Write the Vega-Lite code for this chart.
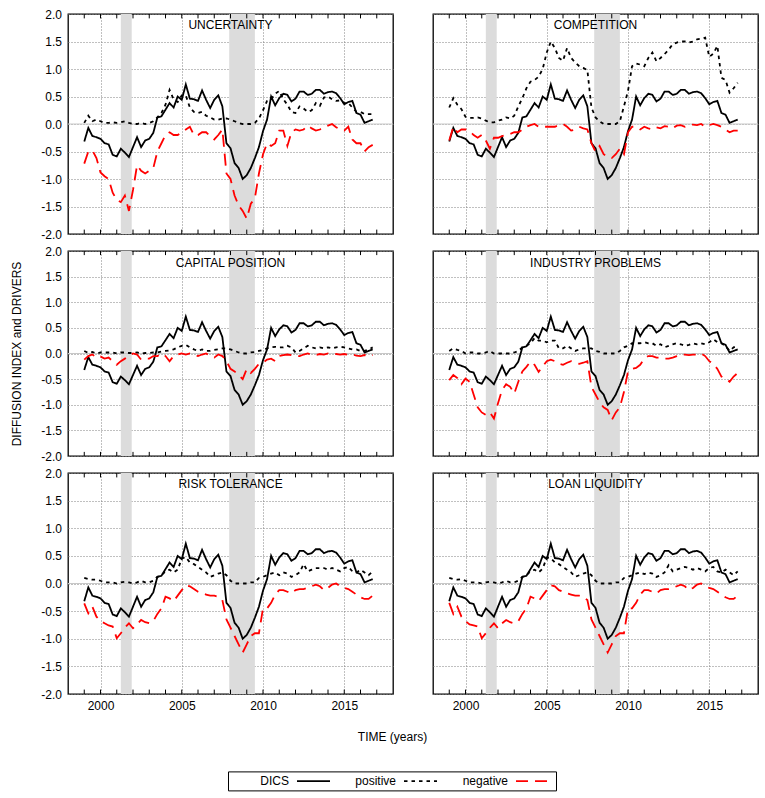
{
  "$schema": "https://vega.github.io/schema/vega-lite/v6.json",
  "background": "white",
  "padding": {"left": 9, "top": 7, "right": 5, "bottom": 5},
  "datasets": {
    "recessions": [
      {"start": 2001.25, "end": 2001.92},
      {"start": 2007.92, "end": 2009.5}
    ],
    "years": [
      {"year": 1999}, {"year": 2000}, {"year": 2001}, {"year": 2002}, {"year": 2003},
      {"year": 2004}, {"year": 2005}, {"year": 2006}, {"year": 2007}, {"year": 2008},
      {"year": 2009}, {"year": 2010}, {"year": 2011}, {"year": 2012}, {"year": 2013},
      {"year": 2014}, {"year": 2015}, {"year": 2016}, {"year": 2017}
    ],
    "dics": [
      {"t":1999,"DICS":-0.32},{"t":1999.25,"DICS":-0.07},{"t":1999.5,"DICS":-0.22},{"t":1999.75,"DICS":-0.24},
      {"t":2000,"DICS":-0.27},{"t":2000.25,"DICS":-0.35},{"t":2000.5,"DICS":-0.37},{"t":2000.75,"DICS":-0.56},
      {"t":2001,"DICS":-0.59},{"t":2001.25,"DICS":-0.45},{"t":2001.5,"DICS":-0.52},{"t":2001.75,"DICS":-0.60},
      {"t":2002,"DICS":-0.42},{"t":2002.25,"DICS":-0.24},{"t":2002.5,"DICS":-0.42},{"t":2002.75,"DICS":-0.30},
      {"t":2003,"DICS":-0.27},{"t":2003.25,"DICS":-0.16},{"t":2003.5,"DICS":0.12},{"t":2003.75,"DICS":0.14},
      {"t":2004,"DICS":0.26},{"t":2004.25,"DICS":0.38},{"t":2004.5,"DICS":0.30},{"t":2004.75,"DICS":0.50},
      {"t":2005,"DICS":0.44},{"t":2005.25,"DICS":0.72},{"t":2005.5,"DICS":0.46},{"t":2005.75,"DICS":0.45},
      {"t":2006,"DICS":0.42},{"t":2006.25,"DICS":0.61},{"t":2006.5,"DICS":0.44},{"t":2006.75,"DICS":0.29},
      {"t":2007,"DICS":0.44},{"t":2007.25,"DICS":0.52},{"t":2007.5,"DICS":0.32},{"t":2007.75,"DICS":-0.35},
      {"t":2008,"DICS":-0.44},{"t":2008.25,"DICS":-0.71},{"t":2008.5,"DICS":-0.80},{"t":2008.75,"DICS":-1.00},
      {"t":2009,"DICS":-0.93},{"t":2009.25,"DICS":-0.80},{"t":2009.5,"DICS":-0.62},{"t":2009.75,"DICS":-0.42},
      {"t":2010,"DICS":-0.13},{"t":2010.25,"DICS":0.08},{"t":2010.5,"DICS":0.50},{"t":2010.75,"DICS":0.34},
      {"t":2011,"DICS":0.47},{"t":2011.25,"DICS":0.55},{"t":2011.5,"DICS":0.53},{"t":2011.75,"DICS":0.41},
      {"t":2012,"DICS":0.46},{"t":2012.25,"DICS":0.59},{"t":2012.5,"DICS":0.59},{"t":2012.75,"DICS":0.53},
      {"t":2013,"DICS":0.55},{"t":2013.25,"DICS":0.62},{"t":2013.5,"DICS":0.62},{"t":2013.75,"DICS":0.55},
      {"t":2014,"DICS":0.58},{"t":2014.25,"DICS":0.59},{"t":2014.5,"DICS":0.56},{"t":2014.75,"DICS":0.47},
      {"t":2015,"DICS":0.36},{"t":2015.25,"DICS":0.40},{"t":2015.5,"DICS":0.42},{"t":2015.75,"DICS":0.20},
      {"t":2016,"DICS":0.17},{"t":2016.25,"DICS":0.02},{"t":2016.5,"DICS":0.05},{"t":2016.75,"DICS":0.08}
    ],
    "drivers": [
      {"panel":"UNCERTAINTY","t":1999,"positive":0.02,"negative":-0.72},
      {"panel":"UNCERTAINTY","t":1999.25,"positive":0.15,"negative":-0.50},
      {"panel":"UNCERTAINTY","t":1999.5,"positive":0.05,"negative":-0.48},
      {"panel":"UNCERTAINTY","t":1999.75,"positive":0.08,"negative":-0.62},
      {"panel":"UNCERTAINTY","t":2000,"positive":0.05,"negative":-0.88},
      {"panel":"UNCERTAINTY","t":2000.25,"positive":0.02,"negative":-0.95},
      {"panel":"UNCERTAINTY","t":2000.5,"positive":0.02,"negative":-1.00},
      {"panel":"UNCERTAINTY","t":2000.75,"positive":0.03,"negative":-1.25},
      {"panel":"UNCERTAINTY","t":2001,"positive":0.02,"negative":-1.38},
      {"panel":"UNCERTAINTY","t":2001.25,"positive":0.03,"negative":-1.42},
      {"panel":"UNCERTAINTY","t":2001.5,"positive":0.05,"negative":-1.30},
      {"panel":"UNCERTAINTY","t":2001.75,"positive":0.02,"negative":-1.58},
      {"panel":"UNCERTAINTY","t":2002,"positive":0.00,"negative":-1.20},
      {"panel":"UNCERTAINTY","t":2002.25,"positive":0.00,"negative":-0.75},
      {"panel":"UNCERTAINTY","t":2002.5,"positive":0.02,"negative":-0.85},
      {"panel":"UNCERTAINTY","t":2002.75,"positive":0.00,"negative":-0.90},
      {"panel":"UNCERTAINTY","t":2003,"positive":0.02,"negative":-0.85},
      {"panel":"UNCERTAINTY","t":2003.25,"positive":0.05,"negative":-0.80},
      {"panel":"UNCERTAINTY","t":2003.5,"positive":0.12,"negative":-0.50},
      {"panel":"UNCERTAINTY","t":2003.75,"positive":0.20,"negative":-0.35},
      {"panel":"UNCERTAINTY","t":2004,"positive":0.35,"negative":-0.20},
      {"panel":"UNCERTAINTY","t":2004.25,"positive":0.62,"negative":-0.15},
      {"panel":"UNCERTAINTY","t":2004.5,"positive":0.45,"negative":-0.20},
      {"panel":"UNCERTAINTY","t":2004.75,"positive":0.40,"negative":-0.20},
      {"panel":"UNCERTAINTY","t":2005,"positive":0.52,"negative":-0.15},
      {"panel":"UNCERTAINTY","t":2005.25,"positive":0.52,"negative":-0.10},
      {"panel":"UNCERTAINTY","t":2005.5,"positive":0.30,"negative":-0.05},
      {"panel":"UNCERTAINTY","t":2005.75,"positive":0.22,"negative":-0.20},
      {"panel":"UNCERTAINTY","t":2006,"positive":0.20,"negative":-0.20},
      {"panel":"UNCERTAINTY","t":2006.25,"positive":0.22,"negative":-0.15},
      {"panel":"UNCERTAINTY","t":2006.5,"positive":0.15,"negative":-0.15},
      {"panel":"UNCERTAINTY","t":2006.75,"positive":0.12,"negative":-0.22},
      {"panel":"UNCERTAINTY","t":2007,"positive":0.08,"negative":-0.28},
      {"panel":"UNCERTAINTY","t":2007.25,"positive":0.08,"negative":-0.20},
      {"panel":"UNCERTAINTY","t":2007.5,"positive":0.10,"negative":-0.10},
      {"panel":"UNCERTAINTY","t":2007.75,"positive":0.10,"negative":-0.90},
      {"panel":"UNCERTAINTY","t":2008,"positive":0.08,"negative":-1.00},
      {"panel":"UNCERTAINTY","t":2008.25,"positive":0.05,"negative":-1.30},
      {"panel":"UNCERTAINTY","t":2008.5,"positive":0.02,"negative":-1.48},
      {"panel":"UNCERTAINTY","t":2008.75,"positive":0.00,"negative":-1.58},
      {"panel":"UNCERTAINTY","t":2009,"positive":0.00,"negative":-1.72},
      {"panel":"UNCERTAINTY","t":2009.25,"positive":0.00,"negative":-1.45},
      {"panel":"UNCERTAINTY","t":2009.5,"positive":0.02,"negative":-1.35},
      {"panel":"UNCERTAINTY","t":2009.75,"positive":0.10,"negative":-0.90},
      {"panel":"UNCERTAINTY","t":2010,"positive":0.25,"negative":-0.55},
      {"panel":"UNCERTAINTY","t":2010.25,"positive":0.42,"negative":-0.35},
      {"panel":"UNCERTAINTY","t":2010.5,"positive":0.45,"negative":-0.40},
      {"panel":"UNCERTAINTY","t":2010.75,"positive":0.55,"negative":-0.35},
      {"panel":"UNCERTAINTY","t":2011,"positive":0.60,"negative":-0.12},
      {"panel":"UNCERTAINTY","t":2011.25,"positive":0.45,"negative":-0.12},
      {"panel":"UNCERTAINTY","t":2011.5,"positive":0.35,"negative":-0.40},
      {"panel":"UNCERTAINTY","t":2011.75,"positive":0.22,"negative":-0.15},
      {"panel":"UNCERTAINTY","t":2012,"positive":0.20,"negative":-0.10},
      {"panel":"UNCERTAINTY","t":2012.25,"positive":0.32,"negative":-0.12},
      {"panel":"UNCERTAINTY","t":2012.5,"positive":0.28,"negative":-0.10},
      {"panel":"UNCERTAINTY","t":2012.75,"positive":0.22,"negative":-0.03},
      {"panel":"UNCERTAINTY","t":2013,"positive":0.25,"negative":-0.08},
      {"panel":"UNCERTAINTY","t":2013.25,"positive":0.38,"negative":-0.12},
      {"panel":"UNCERTAINTY","t":2013.5,"positive":0.33,"negative":-0.10},
      {"panel":"UNCERTAINTY","t":2013.75,"positive":0.48,"negative":-0.06},
      {"panel":"UNCERTAINTY","t":2014,"positive":0.50,"negative":-0.03},
      {"panel":"UNCERTAINTY","t":2014.25,"positive":0.45,"negative":0.00},
      {"panel":"UNCERTAINTY","t":2014.5,"positive":0.42,"negative":-0.06},
      {"panel":"UNCERTAINTY","t":2014.75,"positive":0.43,"negative":-0.10},
      {"panel":"UNCERTAINTY","t":2015,"positive":0.38,"negative":-0.12},
      {"panel":"UNCERTAINTY","t":2015.25,"positive":0.38,"negative":-0.05},
      {"panel":"UNCERTAINTY","t":2015.5,"positive":0.30,"negative":-0.28},
      {"panel":"UNCERTAINTY","t":2015.75,"positive":0.22,"negative":-0.35},
      {"panel":"UNCERTAINTY","t":2016,"positive":0.22,"negative":-0.35},
      {"panel":"UNCERTAINTY","t":2016.25,"positive":0.18,"negative":-0.50},
      {"panel":"UNCERTAINTY","t":2016.5,"positive":0.18,"negative":-0.42},
      {"panel":"UNCERTAINTY","t":2016.75,"positive":0.18,"negative":-0.38},

      {"panel":"COMPETITION","t":1999,"positive":0.30,"negative":-0.30},
      {"panel":"COMPETITION","t":1999.25,"positive":0.47,"negative":-0.05},
      {"panel":"COMPETITION","t":1999.5,"positive":0.35,"negative":-0.15},
      {"panel":"COMPETITION","t":1999.75,"positive":0.27,"negative":-0.10},
      {"panel":"COMPETITION","t":2000,"positive":0.13,"negative":-0.10},
      {"panel":"COMPETITION","t":2000.25,"positive":0.11,"negative":-0.12},
      {"panel":"COMPETITION","t":2000.5,"positive":0.11,"negative":-0.20},
      {"panel":"COMPETITION","t":2000.75,"positive":0.12,"negative":-0.25},
      {"panel":"COMPETITION","t":2001,"positive":0.10,"negative":-0.20},
      {"panel":"COMPETITION","t":2001.25,"positive":0.06,"negative":-0.30},
      {"panel":"COMPETITION","t":2001.5,"positive":0.03,"negative":-0.45},
      {"panel":"COMPETITION","t":2001.75,"positive":0.03,"negative":-0.25},
      {"panel":"COMPETITION","t":2002,"positive":0.06,"negative":-0.25},
      {"panel":"COMPETITION","t":2002.25,"positive":0.08,"negative":-0.22},
      {"panel":"COMPETITION","t":2002.5,"positive":0.12,"negative":-0.20},
      {"panel":"COMPETITION","t":2002.75,"positive":0.10,"negative":-0.18},
      {"panel":"COMPETITION","t":2003,"positive":0.15,"negative":-0.15},
      {"panel":"COMPETITION","t":2003.25,"positive":0.32,"negative":-0.15},
      {"panel":"COMPETITION","t":2003.5,"positive":0.47,"negative":-0.10},
      {"panel":"COMPETITION","t":2003.75,"positive":0.65,"negative":-0.05},
      {"panel":"COMPETITION","t":2004,"positive":0.77,"negative":-0.02},
      {"panel":"COMPETITION","t":2004.25,"positive":0.80,"negative":0.00},
      {"panel":"COMPETITION","t":2004.5,"positive":0.86,"negative":-0.05},
      {"panel":"COMPETITION","t":2004.75,"positive":1.00,"negative":-0.05},
      {"panel":"COMPETITION","t":2005,"positive":1.30,"negative":-0.05},
      {"panel":"COMPETITION","t":2005.25,"positive":1.50,"negative":-0.05},
      {"panel":"COMPETITION","t":2005.5,"positive":1.38,"negative":-0.05},
      {"panel":"COMPETITION","t":2005.75,"positive":1.20,"negative":-0.02},
      {"panel":"COMPETITION","t":2006,"positive":1.15,"negative":0.00},
      {"panel":"COMPETITION","t":2006.25,"positive":1.38,"negative":-0.05},
      {"panel":"COMPETITION","t":2006.5,"positive":1.20,"negative":-0.12},
      {"panel":"COMPETITION","t":2006.75,"positive":1.12,"negative":-0.10},
      {"panel":"COMPETITION","t":2007,"positive":1.05,"negative":-0.05},
      {"panel":"COMPETITION","t":2007.25,"positive":1.02,"negative":-0.08},
      {"panel":"COMPETITION","t":2007.5,"positive":0.98,"negative":-0.10},
      {"panel":"COMPETITION","t":2007.75,"positive":0.30,"negative":-0.35},
      {"panel":"COMPETITION","t":2008,"positive":0.12,"negative":-0.50},
      {"panel":"COMPETITION","t":2008.25,"positive":0.05,"negative":-0.40},
      {"panel":"COMPETITION","t":2008.5,"positive":0.00,"negative":-0.55},
      {"panel":"COMPETITION","t":2008.75,"positive":0.00,"negative":-0.60},
      {"panel":"COMPETITION","t":2009,"positive":0.00,"negative":-0.62},
      {"panel":"COMPETITION","t":2009.25,"positive":0.00,"negative":-0.55},
      {"panel":"COMPETITION","t":2009.5,"positive":0.05,"negative":-0.45},
      {"panel":"COMPETITION","t":2009.75,"positive":0.32,"negative":-0.55},
      {"panel":"COMPETITION","t":2010,"positive":0.60,"negative":-0.15},
      {"panel":"COMPETITION","t":2010.25,"positive":1.05,"negative":-0.05},
      {"panel":"COMPETITION","t":2010.5,"positive":1.10,"negative":-0.05},
      {"panel":"COMPETITION","t":2010.75,"positive":1.08,"negative":-0.10},
      {"panel":"COMPETITION","t":2011,"positive":1.05,"negative":-0.05},
      {"panel":"COMPETITION","t":2011.25,"positive":1.20,"negative":-0.08},
      {"panel":"COMPETITION","t":2011.5,"positive":1.30,"negative":-0.10},
      {"panel":"COMPETITION","t":2011.75,"positive":1.14,"negative":-0.06},
      {"panel":"COMPETITION","t":2012,"positive":1.20,"negative":-0.08},
      {"panel":"COMPETITION","t":2012.25,"positive":1.27,"negative":-0.04},
      {"panel":"COMPETITION","t":2012.5,"positive":1.35,"negative":-0.05},
      {"panel":"COMPETITION","t":2012.75,"positive":1.45,"negative":-0.08},
      {"panel":"COMPETITION","t":2013,"positive":1.48,"negative":-0.03},
      {"panel":"COMPETITION","t":2013.25,"positive":1.50,"negative":-0.02},
      {"panel":"COMPETITION","t":2013.5,"positive":1.50,"negative":-0.05},
      {"panel":"COMPETITION","t":2013.75,"positive":1.48,"negative":-0.02},
      {"panel":"COMPETITION","t":2014,"positive":1.50,"negative":-0.01},
      {"panel":"COMPETITION","t":2014.25,"positive":1.54,"negative":-0.02},
      {"panel":"COMPETITION","t":2014.5,"positive":1.55,"negative":0.00},
      {"panel":"COMPETITION","t":2014.75,"positive":1.57,"negative":-0.05},
      {"panel":"COMPETITION","t":2015,"positive":1.22,"negative":-0.02},
      {"panel":"COMPETITION","t":2015.25,"positive":1.28,"negative":0.00},
      {"panel":"COMPETITION","t":2015.5,"positive":1.42,"negative":-0.02},
      {"panel":"COMPETITION","t":2015.75,"positive":0.84,"negative":-0.05},
      {"panel":"COMPETITION","t":2016,"positive":0.80,"negative":-0.10},
      {"panel":"COMPETITION","t":2016.25,"positive":0.57,"negative":-0.15},
      {"panel":"COMPETITION","t":2016.5,"positive":0.65,"negative":-0.12},
      {"panel":"COMPETITION","t":2016.75,"positive":0.75,"negative":-0.12},

      {"panel":"CAPITAL POSITION","t":1999,"positive":0.05,"negative":-0.12},
      {"panel":"CAPITAL POSITION","t":1999.25,"positive":0.01,"negative":-0.05},
      {"panel":"CAPITAL POSITION","t":1999.5,"positive":0.03,"negative":-0.02},
      {"panel":"CAPITAL POSITION","t":1999.75,"positive":0.00,"negative":-0.08},
      {"panel":"CAPITAL POSITION","t":2000,"positive":0.02,"negative":-0.06},
      {"panel":"CAPITAL POSITION","t":2000.25,"positive":0.02,"negative":-0.10},
      {"panel":"CAPITAL POSITION","t":2000.5,"positive":0.02,"negative":-0.08},
      {"panel":"CAPITAL POSITION","t":2000.75,"positive":0.02,"negative":-0.15},
      {"panel":"CAPITAL POSITION","t":2001,"positive":0.00,"negative":-0.22},
      {"panel":"CAPITAL POSITION","t":2001.25,"positive":0.02,"negative":-0.15},
      {"panel":"CAPITAL POSITION","t":2001.5,"positive":0.02,"negative":-0.10},
      {"panel":"CAPITAL POSITION","t":2001.75,"positive":0.01,"negative":-0.05},
      {"panel":"CAPITAL POSITION","t":2002,"positive":0.01,"negative":0.00},
      {"panel":"CAPITAL POSITION","t":2002.25,"positive":0.02,"negative":-0.02},
      {"panel":"CAPITAL POSITION","t":2002.5,"positive":0.00,"negative":-0.12},
      {"panel":"CAPITAL POSITION","t":2002.75,"positive":0.01,"negative":-0.10},
      {"panel":"CAPITAL POSITION","t":2003,"positive":0.01,"negative":-0.10},
      {"panel":"CAPITAL POSITION","t":2003.25,"positive":0.02,"negative":-0.05},
      {"panel":"CAPITAL POSITION","t":2003.5,"positive":0.02,"negative":-0.05},
      {"panel":"CAPITAL POSITION","t":2003.75,"positive":0.04,"negative":0.00},
      {"panel":"CAPITAL POSITION","t":2004,"positive":0.05,"negative":-0.05},
      {"panel":"CAPITAL POSITION","t":2004.25,"positive":0.06,"negative":-0.15},
      {"panel":"CAPITAL POSITION","t":2004.5,"positive":0.08,"negative":-0.05},
      {"panel":"CAPITAL POSITION","t":2004.75,"positive":0.12,"negative":-0.02},
      {"panel":"CAPITAL POSITION","t":2005,"positive":0.15,"negative":0.00},
      {"panel":"CAPITAL POSITION","t":2005.25,"positive":0.17,"negative":-0.02},
      {"panel":"CAPITAL POSITION","t":2005.5,"positive":0.12,"negative":0.00},
      {"panel":"CAPITAL POSITION","t":2005.75,"positive":0.08,"negative":-0.02},
      {"panel":"CAPITAL POSITION","t":2006,"positive":0.05,"negative":-0.05},
      {"panel":"CAPITAL POSITION","t":2006.25,"positive":0.08,"negative":-0.02},
      {"panel":"CAPITAL POSITION","t":2006.5,"positive":0.05,"negative":0.00},
      {"panel":"CAPITAL POSITION","t":2006.75,"positive":0.05,"negative":-0.05},
      {"panel":"CAPITAL POSITION","t":2007,"positive":0.07,"negative":-0.08},
      {"panel":"CAPITAL POSITION","t":2007.25,"positive":0.08,"negative":-0.02},
      {"panel":"CAPITAL POSITION","t":2007.5,"positive":0.10,"negative":-0.05},
      {"panel":"CAPITAL POSITION","t":2007.75,"positive":0.10,"negative":-0.15},
      {"panel":"CAPITAL POSITION","t":2008,"positive":0.08,"negative":-0.30},
      {"panel":"CAPITAL POSITION","t":2008.25,"positive":0.05,"negative":-0.35},
      {"panel":"CAPITAL POSITION","t":2008.5,"positive":0.02,"negative":-0.42},
      {"panel":"CAPITAL POSITION","t":2008.75,"positive":0.00,"negative":-0.50},
      {"panel":"CAPITAL POSITION","t":2009,"positive":0.00,"negative":-0.30},
      {"panel":"CAPITAL POSITION","t":2009.25,"positive":0.02,"negative":-0.38},
      {"panel":"CAPITAL POSITION","t":2009.5,"positive":0.03,"negative":-0.30},
      {"panel":"CAPITAL POSITION","t":2009.75,"positive":0.05,"negative":-0.20},
      {"panel":"CAPITAL POSITION","t":2010,"positive":0.07,"negative":-0.18},
      {"panel":"CAPITAL POSITION","t":2010.25,"positive":0.10,"negative":-0.12},
      {"panel":"CAPITAL POSITION","t":2010.5,"positive":0.12,"negative":-0.10},
      {"panel":"CAPITAL POSITION","t":2010.75,"positive":0.13,"negative":-0.15},
      {"panel":"CAPITAL POSITION","t":2011,"positive":0.12,"negative":-0.05},
      {"panel":"CAPITAL POSITION","t":2011.25,"positive":0.12,"negative":-0.03},
      {"panel":"CAPITAL POSITION","t":2011.5,"positive":0.15,"negative":-0.02},
      {"panel":"CAPITAL POSITION","t":2011.75,"positive":0.12,"negative":-0.03},
      {"panel":"CAPITAL POSITION","t":2012,"positive":0.02,"negative":-0.05},
      {"panel":"CAPITAL POSITION","t":2012.25,"positive":0.05,"negative":-0.05},
      {"panel":"CAPITAL POSITION","t":2012.5,"positive":0.10,"negative":-0.02},
      {"panel":"CAPITAL POSITION","t":2012.75,"positive":0.15,"negative":0.00},
      {"panel":"CAPITAL POSITION","t":2013,"positive":0.12,"negative":-0.02},
      {"panel":"CAPITAL POSITION","t":2013.25,"positive":0.10,"negative":-0.03},
      {"panel":"CAPITAL POSITION","t":2013.5,"positive":0.12,"negative":-0.01},
      {"panel":"CAPITAL POSITION","t":2013.75,"positive":0.10,"negative":-0.02},
      {"panel":"CAPITAL POSITION","t":2014,"positive":0.12,"negative":0.00},
      {"panel":"CAPITAL POSITION","t":2014.25,"positive":0.10,"negative":-0.02},
      {"panel":"CAPITAL POSITION","t":2014.5,"positive":0.12,"negative":-0.01},
      {"panel":"CAPITAL POSITION","t":2014.75,"positive":0.13,"negative":-0.02},
      {"panel":"CAPITAL POSITION","t":2015,"positive":0.12,"negative":-0.01},
      {"panel":"CAPITAL POSITION","t":2015.25,"positive":0.10,"negative":-0.03},
      {"panel":"CAPITAL POSITION","t":2015.5,"positive":0.08,"negative":-0.02},
      {"panel":"CAPITAL POSITION","t":2015.75,"positive":0.08,"negative":-0.04},
      {"panel":"CAPITAL POSITION","t":2016,"positive":0.05,"negative":-0.05},
      {"panel":"CAPITAL POSITION","t":2016.25,"positive":0.05,"negative":-0.03},
      {"panel":"CAPITAL POSITION","t":2016.5,"positive":0.08,"negative":-0.06},
      {"panel":"CAPITAL POSITION","t":2016.75,"positive":0.12,"negative":-0.03},

      {"panel":"INDUSTRY PROBLEMS","t":1999,"positive":0.05,"negative":-0.52},
      {"panel":"INDUSTRY PROBLEMS","t":1999.25,"positive":0.10,"negative":-0.42},
      {"panel":"INDUSTRY PROBLEMS","t":1999.5,"positive":0.07,"negative":-0.48},
      {"panel":"INDUSTRY PROBLEMS","t":1999.75,"positive":0.05,"negative":-0.60},
      {"panel":"INDUSTRY PROBLEMS","t":2000,"positive":0.00,"negative":-0.49},
      {"panel":"INDUSTRY PROBLEMS","t":2000.25,"positive":0.02,"negative":-0.55},
      {"panel":"INDUSTRY PROBLEMS","t":2000.5,"positive":0.02,"negative":-0.80},
      {"panel":"INDUSTRY PROBLEMS","t":2000.75,"positive":0.00,"negative":-1.05},
      {"panel":"INDUSTRY PROBLEMS","t":2001,"positive":0.00,"negative":-1.15},
      {"panel":"INDUSTRY PROBLEMS","t":2001.25,"positive":0.02,"negative":-1.20},
      {"panel":"INDUSTRY PROBLEMS","t":2001.5,"positive":0.05,"negative":-1.15},
      {"panel":"INDUSTRY PROBLEMS","t":2001.75,"positive":0.00,"negative":-1.27},
      {"panel":"INDUSTRY PROBLEMS","t":2002,"positive":0.00,"negative":-0.97},
      {"panel":"INDUSTRY PROBLEMS","t":2002.25,"positive":0.00,"negative":-0.71},
      {"panel":"INDUSTRY PROBLEMS","t":2002.5,"positive":0.00,"negative":-0.60},
      {"panel":"INDUSTRY PROBLEMS","t":2002.75,"positive":0.00,"negative":-0.65},
      {"panel":"INDUSTRY PROBLEMS","t":2003,"positive":0.02,"negative":-0.78},
      {"panel":"INDUSTRY PROBLEMS","t":2003.25,"positive":0.05,"negative":-0.55},
      {"panel":"INDUSTRY PROBLEMS","t":2003.5,"positive":0.12,"negative":-0.35},
      {"panel":"INDUSTRY PROBLEMS","t":2003.75,"positive":0.15,"negative":-0.26},
      {"panel":"INDUSTRY PROBLEMS","t":2004,"positive":0.20,"negative":-0.16},
      {"panel":"INDUSTRY PROBLEMS","t":2004.25,"positive":0.30,"negative":-0.22},
      {"panel":"INDUSTRY PROBLEMS","t":2004.5,"positive":0.25,"negative":-0.36},
      {"panel":"INDUSTRY PROBLEMS","t":2004.75,"positive":0.25,"negative":-0.25},
      {"panel":"INDUSTRY PROBLEMS","t":2005,"positive":0.22,"negative":-0.15},
      {"panel":"INDUSTRY PROBLEMS","t":2005.25,"positive":0.25,"negative":-0.12},
      {"panel":"INDUSTRY PROBLEMS","t":2005.5,"positive":0.25,"negative":-0.15},
      {"panel":"INDUSTRY PROBLEMS","t":2005.75,"positive":0.10,"negative":-0.20},
      {"panel":"INDUSTRY PROBLEMS","t":2006,"positive":0.10,"negative":-0.22},
      {"panel":"INDUSTRY PROBLEMS","t":2006.25,"positive":0.15,"negative":-0.18},
      {"panel":"INDUSTRY PROBLEMS","t":2006.5,"positive":0.10,"negative":-0.15},
      {"panel":"INDUSTRY PROBLEMS","t":2006.75,"positive":0.05,"negative":-0.18},
      {"panel":"INDUSTRY PROBLEMS","t":2007,"positive":0.08,"negative":-0.20},
      {"panel":"INDUSTRY PROBLEMS","t":2007.25,"positive":0.10,"negative":-0.18},
      {"panel":"INDUSTRY PROBLEMS","t":2007.5,"positive":0.10,"negative":-0.15},
      {"panel":"INDUSTRY PROBLEMS","t":2007.75,"positive":0.10,"negative":-0.65},
      {"panel":"INDUSTRY PROBLEMS","t":2008,"positive":0.05,"negative":-0.80},
      {"panel":"INDUSTRY PROBLEMS","t":2008.25,"positive":0.03,"negative":-0.95},
      {"panel":"INDUSTRY PROBLEMS","t":2008.5,"positive":0.00,"negative":-1.05},
      {"panel":"INDUSTRY PROBLEMS","t":2008.75,"positive":0.00,"negative":-1.10},
      {"panel":"INDUSTRY PROBLEMS","t":2009,"positive":0.00,"negative":-1.30},
      {"panel":"INDUSTRY PROBLEMS","t":2009.25,"positive":0.00,"negative":-1.15},
      {"panel":"INDUSTRY PROBLEMS","t":2009.5,"positive":0.05,"negative":-1.05},
      {"panel":"INDUSTRY PROBLEMS","t":2009.75,"positive":0.12,"negative":-0.75},
      {"panel":"INDUSTRY PROBLEMS","t":2010,"positive":0.15,"negative":-0.35},
      {"panel":"INDUSTRY PROBLEMS","t":2010.25,"positive":0.20,"negative":-0.30},
      {"panel":"INDUSTRY PROBLEMS","t":2010.5,"positive":0.20,"negative":-0.28},
      {"panel":"INDUSTRY PROBLEMS","t":2010.75,"positive":0.20,"negative":-0.22},
      {"panel":"INDUSTRY PROBLEMS","t":2011,"positive":0.22,"negative":-0.10},
      {"panel":"INDUSTRY PROBLEMS","t":2011.25,"positive":0.20,"negative":-0.05},
      {"panel":"INDUSTRY PROBLEMS","t":2011.5,"positive":0.20,"negative":-0.05},
      {"panel":"INDUSTRY PROBLEMS","t":2011.75,"positive":0.15,"negative":-0.08},
      {"panel":"INDUSTRY PROBLEMS","t":2012,"positive":0.18,"negative":-0.08},
      {"panel":"INDUSTRY PROBLEMS","t":2012.25,"positive":0.12,"negative":-0.10},
      {"panel":"INDUSTRY PROBLEMS","t":2012.5,"positive":0.15,"negative":-0.10},
      {"panel":"INDUSTRY PROBLEMS","t":2012.75,"positive":0.18,"negative":-0.08},
      {"panel":"INDUSTRY PROBLEMS","t":2013,"positive":0.20,"negative":-0.05},
      {"panel":"INDUSTRY PROBLEMS","t":2013.25,"positive":0.18,"negative":-0.02},
      {"panel":"INDUSTRY PROBLEMS","t":2013.5,"positive":0.15,"negative":-0.02},
      {"panel":"INDUSTRY PROBLEMS","t":2013.75,"positive":0.17,"negative":-0.03},
      {"panel":"INDUSTRY PROBLEMS","t":2014,"positive":0.20,"negative":-0.02},
      {"panel":"INDUSTRY PROBLEMS","t":2014.25,"positive":0.18,"negative":-0.02},
      {"panel":"INDUSTRY PROBLEMS","t":2014.5,"positive":0.20,"negative":0.00},
      {"panel":"INDUSTRY PROBLEMS","t":2014.75,"positive":0.18,"negative":-0.05},
      {"panel":"INDUSTRY PROBLEMS","t":2015,"positive":0.22,"negative":-0.15},
      {"panel":"INDUSTRY PROBLEMS","t":2015.25,"positive":0.28,"negative":-0.20},
      {"panel":"INDUSTRY PROBLEMS","t":2015.5,"positive":0.22,"negative":-0.30},
      {"panel":"INDUSTRY PROBLEMS","t":2015.75,"positive":0.20,"negative":-0.45},
      {"panel":"INDUSTRY PROBLEMS","t":2016,"positive":0.15,"negative":-0.50},
      {"panel":"INDUSTRY PROBLEMS","t":2016.25,"positive":0.05,"negative":-0.55},
      {"panel":"INDUSTRY PROBLEMS","t":2016.5,"positive":0.12,"negative":-0.45},
      {"panel":"INDUSTRY PROBLEMS","t":2016.75,"positive":0.15,"negative":-0.38},

      {"panel":"RISK TOLERANCE","t":1999,"positive":0.10,"negative":-0.36},
      {"panel":"RISK TOLERANCE","t":1999.25,"positive":0.08,"negative":-0.54},
      {"panel":"RISK TOLERANCE","t":1999.5,"positive":0.07,"negative":-0.42},
      {"panel":"RISK TOLERANCE","t":1999.75,"positive":0.07,"negative":-0.60},
      {"panel":"RISK TOLERANCE","t":2000,"positive":0.05,"negative":-0.68},
      {"panel":"RISK TOLERANCE","t":2000.25,"positive":0.02,"negative":-0.72},
      {"panel":"RISK TOLERANCE","t":2000.5,"positive":0.02,"negative":-0.76},
      {"panel":"RISK TOLERANCE","t":2000.75,"positive":0.02,"negative":-0.78},
      {"panel":"RISK TOLERANCE","t":2001,"positive":0.00,"negative":-0.99},
      {"panel":"RISK TOLERANCE","t":2001.25,"positive":0.02,"negative":-0.90},
      {"panel":"RISK TOLERANCE","t":2001.5,"positive":0.03,"negative":-0.80},
      {"panel":"RISK TOLERANCE","t":2001.75,"positive":0.02,"negative":-0.72},
      {"panel":"RISK TOLERANCE","t":2002,"positive":0.00,"negative":-0.81},
      {"panel":"RISK TOLERANCE","t":2002.25,"positive":0.02,"negative":-0.74},
      {"panel":"RISK TOLERANCE","t":2002.5,"positive":0.05,"negative":-0.66},
      {"panel":"RISK TOLERANCE","t":2002.75,"positive":0.02,"negative":-0.70},
      {"panel":"RISK TOLERANCE","t":2003,"positive":0.02,"negative":-0.72},
      {"panel":"RISK TOLERANCE","t":2003.25,"positive":0.05,"negative":-0.68},
      {"panel":"RISK TOLERANCE","t":2003.5,"positive":0.12,"negative":-0.55},
      {"panel":"RISK TOLERANCE","t":2003.75,"positive":0.15,"negative":-0.45},
      {"panel":"RISK TOLERANCE","t":2004,"positive":0.22,"negative":-0.24},
      {"panel":"RISK TOLERANCE","t":2004.25,"positive":0.25,"negative":-0.27},
      {"panel":"RISK TOLERANCE","t":2004.5,"positive":0.20,"negative":-0.32},
      {"panel":"RISK TOLERANCE","t":2004.75,"positive":0.25,"negative":-0.22},
      {"panel":"RISK TOLERANCE","t":2005,"positive":0.45,"negative":-0.12},
      {"panel":"RISK TOLERANCE","t":2005.25,"positive":0.48,"negative":-0.03},
      {"panel":"RISK TOLERANCE","t":2005.5,"positive":0.38,"negative":-0.05},
      {"panel":"RISK TOLERANCE","t":2005.75,"positive":0.35,"negative":-0.10},
      {"panel":"RISK TOLERANCE","t":2006,"positive":0.30,"negative":-0.15},
      {"panel":"RISK TOLERANCE","t":2006.25,"positive":0.25,"negative":-0.18},
      {"panel":"RISK TOLERANCE","t":2006.5,"positive":0.20,"negative":-0.20},
      {"panel":"RISK TOLERANCE","t":2006.75,"positive":0.12,"negative":-0.22},
      {"panel":"RISK TOLERANCE","t":2007,"positive":0.15,"negative":-0.22},
      {"panel":"RISK TOLERANCE","t":2007.25,"positive":0.18,"negative":-0.24},
      {"panel":"RISK TOLERANCE","t":2007.5,"positive":0.20,"negative":-0.30},
      {"panel":"RISK TOLERANCE","t":2007.75,"positive":0.15,"negative":-0.65},
      {"panel":"RISK TOLERANCE","t":2008,"positive":0.05,"negative":-0.80},
      {"panel":"RISK TOLERANCE","t":2008.25,"positive":0.00,"negative":-0.95},
      {"panel":"RISK TOLERANCE","t":2008.5,"positive":0.00,"negative":-1.10},
      {"panel":"RISK TOLERANCE","t":2008.75,"positive":0.00,"negative":-1.25},
      {"panel":"RISK TOLERANCE","t":2009,"positive":0.00,"negative":-1.10},
      {"panel":"RISK TOLERANCE","t":2009.25,"positive":0.02,"negative":-0.95},
      {"panel":"RISK TOLERANCE","t":2009.5,"positive":0.02,"negative":-0.90},
      {"panel":"RISK TOLERANCE","t":2009.75,"positive":0.10,"negative":-0.90},
      {"panel":"RISK TOLERANCE","t":2010,"positive":0.12,"negative":-0.45},
      {"panel":"RISK TOLERANCE","t":2010.25,"positive":0.15,"negative":-0.45},
      {"panel":"RISK TOLERANCE","t":2010.5,"positive":0.18,"negative":-0.35},
      {"panel":"RISK TOLERANCE","t":2010.75,"positive":0.20,"negative":-0.20},
      {"panel":"RISK TOLERANCE","t":2011,"positive":0.15,"negative":-0.12},
      {"panel":"RISK TOLERANCE","t":2011.25,"positive":0.20,"negative":-0.12},
      {"panel":"RISK TOLERANCE","t":2011.5,"positive":0.18,"negative":-0.15},
      {"panel":"RISK TOLERANCE","t":2011.75,"positive":0.12,"negative":-0.18},
      {"panel":"RISK TOLERANCE","t":2012,"positive":0.15,"negative":-0.12},
      {"panel":"RISK TOLERANCE","t":2012.25,"positive":0.20,"negative":-0.10},
      {"panel":"RISK TOLERANCE","t":2012.5,"positive":0.35,"negative":-0.10},
      {"panel":"RISK TOLERANCE","t":2012.75,"positive":0.22,"negative":-0.08},
      {"panel":"RISK TOLERANCE","t":2013,"positive":0.25,"negative":-0.05},
      {"panel":"RISK TOLERANCE","t":2013.25,"positive":0.28,"negative":-0.02},
      {"panel":"RISK TOLERANCE","t":2013.5,"positive":0.28,"negative":-0.05},
      {"panel":"RISK TOLERANCE","t":2013.75,"positive":0.28,"negative":-0.12},
      {"panel":"RISK TOLERANCE","t":2014,"positive":0.25,"negative":-0.08},
      {"panel":"RISK TOLERANCE","t":2014.25,"positive":0.28,"negative":-0.02},
      {"panel":"RISK TOLERANCE","t":2014.5,"positive":0.25,"negative":0.00},
      {"panel":"RISK TOLERANCE","t":2014.75,"positive":0.22,"negative":-0.05},
      {"panel":"RISK TOLERANCE","t":2015,"positive":0.28,"negative":-0.08},
      {"panel":"RISK TOLERANCE","t":2015.25,"positive":0.30,"negative":-0.10},
      {"panel":"RISK TOLERANCE","t":2015.5,"positive":0.22,"negative":-0.15},
      {"panel":"RISK TOLERANCE","t":2015.75,"positive":0.20,"negative":-0.20},
      {"panel":"RISK TOLERANCE","t":2016,"positive":0.25,"negative":-0.25},
      {"panel":"RISK TOLERANCE","t":2016.25,"positive":0.20,"negative":-0.28},
      {"panel":"RISK TOLERANCE","t":2016.5,"positive":0.15,"negative":-0.28},
      {"panel":"RISK TOLERANCE","t":2016.75,"positive":0.22,"negative":-0.22},

      {"panel":"LOAN LIQUIDITY","t":1999,"positive":0.10,"negative":-0.35},
      {"panel":"LOAN LIQUIDITY","t":1999.25,"positive":0.08,"negative":-0.55},
      {"panel":"LOAN LIQUIDITY","t":1999.5,"positive":0.07,"negative":-0.42},
      {"panel":"LOAN LIQUIDITY","t":1999.75,"positive":0.08,"negative":-0.60},
      {"panel":"LOAN LIQUIDITY","t":2000,"positive":0.05,"negative":-0.68},
      {"panel":"LOAN LIQUIDITY","t":2000.25,"positive":0.02,"negative":-0.74},
      {"panel":"LOAN LIQUIDITY","t":2000.5,"positive":0.02,"negative":-0.76},
      {"panel":"LOAN LIQUIDITY","t":2000.75,"positive":0.02,"negative":-0.78},
      {"panel":"LOAN LIQUIDITY","t":2001,"positive":0.00,"negative":-0.99},
      {"panel":"LOAN LIQUIDITY","t":2001.25,"positive":0.02,"negative":-0.90},
      {"panel":"LOAN LIQUIDITY","t":2001.5,"positive":0.03,"negative":-0.80},
      {"panel":"LOAN LIQUIDITY","t":2001.75,"positive":0.02,"negative":-0.72},
      {"panel":"LOAN LIQUIDITY","t":2002,"positive":0.00,"negative":-0.81},
      {"panel":"LOAN LIQUIDITY","t":2002.25,"positive":0.02,"negative":-0.72},
      {"panel":"LOAN LIQUIDITY","t":2002.5,"positive":0.05,"negative":-0.66},
      {"panel":"LOAN LIQUIDITY","t":2002.75,"positive":0.02,"negative":-0.70},
      {"panel":"LOAN LIQUIDITY","t":2003,"positive":0.02,"negative":-0.72},
      {"panel":"LOAN LIQUIDITY","t":2003.25,"positive":0.05,"negative":-0.68},
      {"panel":"LOAN LIQUIDITY","t":2003.5,"positive":0.12,"negative":-0.55},
      {"panel":"LOAN LIQUIDITY","t":2003.75,"positive":0.15,"negative":-0.45},
      {"panel":"LOAN LIQUIDITY","t":2004,"positive":0.22,"negative":-0.24},
      {"panel":"LOAN LIQUIDITY","t":2004.25,"positive":0.25,"negative":-0.27},
      {"panel":"LOAN LIQUIDITY","t":2004.5,"positive":0.20,"negative":-0.32},
      {"panel":"LOAN LIQUIDITY","t":2004.75,"positive":0.27,"negative":-0.22},
      {"panel":"LOAN LIQUIDITY","t":2005,"positive":0.47,"negative":-0.12},
      {"panel":"LOAN LIQUIDITY","t":2005.25,"positive":0.46,"negative":-0.03},
      {"panel":"LOAN LIQUIDITY","t":2005.5,"positive":0.38,"negative":-0.05},
      {"panel":"LOAN LIQUIDITY","t":2005.75,"positive":0.35,"negative":-0.12},
      {"panel":"LOAN LIQUIDITY","t":2006,"positive":0.30,"negative":-0.15},
      {"panel":"LOAN LIQUIDITY","t":2006.25,"positive":0.25,"negative":-0.18},
      {"panel":"LOAN LIQUIDITY","t":2006.5,"positive":0.20,"negative":-0.20},
      {"panel":"LOAN LIQUIDITY","t":2006.75,"positive":0.12,"negative":-0.22},
      {"panel":"LOAN LIQUIDITY","t":2007,"positive":0.15,"negative":-0.22},
      {"panel":"LOAN LIQUIDITY","t":2007.25,"positive":0.18,"negative":-0.24},
      {"panel":"LOAN LIQUIDITY","t":2007.5,"positive":0.20,"negative":-0.30},
      {"panel":"LOAN LIQUIDITY","t":2007.75,"positive":0.15,"negative":-0.65},
      {"panel":"LOAN LIQUIDITY","t":2008,"positive":0.05,"negative":-0.80},
      {"panel":"LOAN LIQUIDITY","t":2008.25,"positive":0.00,"negative":-0.95},
      {"panel":"LOAN LIQUIDITY","t":2008.5,"positive":0.00,"negative":-1.10},
      {"panel":"LOAN LIQUIDITY","t":2008.75,"positive":0.00,"negative":-1.25},
      {"panel":"LOAN LIQUIDITY","t":2009,"positive":0.00,"negative":-1.10},
      {"panel":"LOAN LIQUIDITY","t":2009.25,"positive":0.02,"negative":-0.95},
      {"panel":"LOAN LIQUIDITY","t":2009.5,"positive":0.02,"negative":-0.90},
      {"panel":"LOAN LIQUIDITY","t":2009.75,"positive":0.10,"negative":-0.90},
      {"panel":"LOAN LIQUIDITY","t":2010,"positive":0.12,"negative":-0.45},
      {"panel":"LOAN LIQUIDITY","t":2010.25,"positive":0.15,"negative":-0.45},
      {"panel":"LOAN LIQUIDITY","t":2010.5,"positive":0.18,"negative":-0.35},
      {"panel":"LOAN LIQUIDITY","t":2010.75,"positive":0.20,"negative":-0.20},
      {"panel":"LOAN LIQUIDITY","t":2011,"positive":0.17,"negative":-0.12},
      {"panel":"LOAN LIQUIDITY","t":2011.25,"positive":0.20,"negative":-0.12},
      {"panel":"LOAN LIQUIDITY","t":2011.5,"positive":0.18,"negative":-0.15},
      {"panel":"LOAN LIQUIDITY","t":2011.75,"positive":0.12,"negative":-0.18},
      {"panel":"LOAN LIQUIDITY","t":2012,"positive":0.15,"negative":-0.12},
      {"panel":"LOAN LIQUIDITY","t":2012.25,"positive":0.20,"negative":-0.10},
      {"panel":"LOAN LIQUIDITY","t":2012.5,"positive":0.33,"negative":-0.10},
      {"panel":"LOAN LIQUIDITY","t":2012.75,"positive":0.22,"negative":-0.08},
      {"panel":"LOAN LIQUIDITY","t":2013,"positive":0.25,"negative":-0.05},
      {"panel":"LOAN LIQUIDITY","t":2013.25,"positive":0.28,"negative":-0.02},
      {"panel":"LOAN LIQUIDITY","t":2013.5,"positive":0.30,"negative":-0.05},
      {"panel":"LOAN LIQUIDITY","t":2013.75,"positive":0.28,"negative":-0.12},
      {"panel":"LOAN LIQUIDITY","t":2014,"positive":0.25,"negative":-0.08},
      {"panel":"LOAN LIQUIDITY","t":2014.25,"positive":0.28,"negative":-0.02},
      {"panel":"LOAN LIQUIDITY","t":2014.5,"positive":0.25,"negative":0.00},
      {"panel":"LOAN LIQUIDITY","t":2014.75,"positive":0.22,"negative":-0.05},
      {"panel":"LOAN LIQUIDITY","t":2015,"positive":0.28,"negative":-0.08},
      {"panel":"LOAN LIQUIDITY","t":2015.25,"positive":0.30,"negative":-0.10},
      {"panel":"LOAN LIQUIDITY","t":2015.5,"positive":0.22,"negative":-0.15},
      {"panel":"LOAN LIQUIDITY","t":2015.75,"positive":0.20,"negative":-0.20},
      {"panel":"LOAN LIQUIDITY","t":2016,"positive":0.25,"negative":-0.25},
      {"panel":"LOAN LIQUIDITY","t":2016.25,"positive":0.20,"negative":-0.28},
      {"panel":"LOAN LIQUIDITY","t":2016.5,"positive":0.15,"negative":-0.28},
      {"panel":"LOAN LIQUIDITY","t":2016.75,"positive":0.22,"negative":-0.22}
    ]
  },
  "columns": 2,
  "spacing": {"row": 17, "column": 40},
  "bounds": "flush",
  "align": "each",
  "concat": [
    {
      "width": 325, "height": 220,
      "layer": [
        {"data": {"name": "recessions"}, "mark": {"type": "rect", "color": "#dcdcdc"},
         "encoding": {
           "x": {"field": "start", "type": "quantitative", "scale": {"domain": [1998, 2018], "nice": false, "zero": false}, "axis": {"labels": false, "title": null}},
           "x2": {"field": "end"},
           "y": {"datum": -2, "type": "quantitative", "scale": {"domain": [-2, 2], "nice": false}, "axis": {"title": null}},
           "y2": {"datum": 2}
         }},
        {"data": {"values": [{}]}, "mark": {"type": "rule", "color": "#c8c8c8", "strokeWidth": 1}, "encoding": {"y": {"datum": 0, "type": "quantitative", "axis": {"title": null}}}},
        {"data": {"name": "years"}, "mark": {"type": "rule", "color": "black"}, "encoding": {"x": {"field": "year", "type": "quantitative", "axis": {"labels": false, "title": null}}, "y": {"datum": -2, "type": "quantitative", "axis": {"title": null}}, "y2": {"datum": -1.92}}},
        {"data": {"name": "years"}, "mark": {"type": "rule", "color": "black"}, "encoding": {"x": {"field": "year", "type": "quantitative", "axis": {"labels": false, "title": null}}, "y": {"datum": 2, "type": "quantitative", "axis": {"title": null}}, "y2": {"datum": 1.92}}},
        {"data": {"name": "drivers"},
         "transform": [
           {"filter": "datum.panel === 'UNCERTAINTY'"},
           {"lookup": "t", "from": {"data": {"name": "dics"}, "key": "t", "fields": ["DICS"]}},
           {"fold": ["DICS", "positive", "negative"], "as": ["series", "v"]}
         ],
         "mark": {"type": "line", "strokeWidth": 1.8},
         "encoding": {
           "x": {"field": "t", "type": "quantitative", "axis": {"labels": false, "title": null}},
           "y": {"field": "v", "type": "quantitative", "axis": {"title": null}},
           "color": {"field": "series", "type": "nominal", "title": " ", "scale": {"domain": ["DICS", "positive", "negative"], "range": ["#000000", "#000000", "#ff0000"]}, "legend": {"orient": "none", "legendX": 160, "legendY": 757.4, "direction": "horizontal", "labelAlign": "right", "labelOffset": -31, "symbolType": "M-3,0H3", "symbolSize": 121, "columnPadding": 21, "padding": 3, "titleOrient": "left", "titlePadding": 76}},
           "strokeDash": {"field": "series", "type": "nominal", "title": " ", "scale": {"domain": ["DICS", "positive", "negative"], "range": [[1, 0], [3.5, 4], [12, 7]]}, "legend": {"orient": "none", "legendX": 160, "legendY": 757.4, "direction": "horizontal", "labelAlign": "right", "labelOffset": -31, "symbolType": "M-3,0H3", "symbolSize": 121, "columnPadding": 21, "padding": 3, "titleOrient": "left", "titlePadding": 76}}
         }},
        {"data": {"values": [{}]}, "mark": {"type": "text", "baseline": "alphabetic"}, "encoding": {"x": {"datum": 2008, "type": "quantitative", "axis": {"labels": false, "title": null}}, "y": {"datum": 1.72, "type": "quantitative", "axis": {"title": null}}, "text": {"value": "UNCERTAINTY"}}}
      ]
    },
    {
      "width": 325, "height": 220,
      "layer": [
        {"data": {"name": "recessions"}, "mark": {"type": "rect", "color": "#dcdcdc"},
         "encoding": {
           "x": {"field": "start", "type": "quantitative", "scale": {"domain": [1998, 2018], "nice": false, "zero": false}, "axis": {"labels": false, "title": null}},
           "x2": {"field": "end"},
           "y": {"datum": -2, "type": "quantitative", "scale": {"domain": [-2, 2], "nice": false}, "axis": {"labels": false, "title": null}},
           "y2": {"datum": 2}
         }},
        {"data": {"values": [{}]}, "mark": {"type": "rule", "color": "#c8c8c8", "strokeWidth": 1}, "encoding": {"y": {"datum": 0, "type": "quantitative", "axis": {"labels": false, "title": null}}}},
        {"data": {"name": "years"}, "mark": {"type": "rule", "color": "black"}, "encoding": {"x": {"field": "year", "type": "quantitative", "axis": {"labels": false, "title": null}}, "y": {"datum": -2, "type": "quantitative", "axis": {"labels": false, "title": null}}, "y2": {"datum": -1.92}}},
        {"data": {"name": "years"}, "mark": {"type": "rule", "color": "black"}, "encoding": {"x": {"field": "year", "type": "quantitative", "axis": {"labels": false, "title": null}}, "y": {"datum": 2, "type": "quantitative", "axis": {"labels": false, "title": null}}, "y2": {"datum": 1.92}}},
        {"data": {"name": "drivers"},
         "transform": [
           {"filter": "datum.panel === 'COMPETITION'"},
           {"lookup": "t", "from": {"data": {"name": "dics"}, "key": "t", "fields": ["DICS"]}},
           {"fold": ["DICS", "positive", "negative"], "as": ["series", "v"]}
         ],
         "mark": {"type": "line", "strokeWidth": 1.8},
         "encoding": {
           "x": {"field": "t", "type": "quantitative", "axis": {"labels": false, "title": null}},
           "y": {"field": "v", "type": "quantitative", "axis": {"labels": false, "title": null}},
           "color": {"field": "series", "type": "nominal", "title": " ", "scale": {"domain": ["DICS", "positive", "negative"], "range": ["#000000", "#000000", "#ff0000"]}},
           "strokeDash": {"field": "series", "type": "nominal", "title": " ", "scale": {"domain": ["DICS", "positive", "negative"], "range": [[1, 0], [3.5, 4], [12, 7]]}}
         }},
        {"data": {"values": [{}]}, "mark": {"type": "text", "baseline": "alphabetic"}, "encoding": {"x": {"datum": 2008, "type": "quantitative", "axis": {"labels": false, "title": null}}, "y": {"datum": 1.72, "type": "quantitative", "axis": {"labels": false, "title": null}}, "text": {"value": "COMPETITION"}}}
      ]
    },
    {
      "width": 325, "height": 205,
      "layer": [
        {"data": {"name": "recessions"}, "mark": {"type": "rect", "color": "#dcdcdc"},
         "encoding": {
           "x": {"field": "start", "type": "quantitative", "scale": {"domain": [1998, 2018], "nice": false, "zero": false}, "axis": {"labels": false, "title": null}},
           "x2": {"field": "end"},
           "y": {"datum": -2, "type": "quantitative", "scale": {"domain": [-2, 2], "nice": false}, "axis": {"title": "DIFFUSION INDEX and DRIVERS", "titleX": -51.7, "titleBaseline": "middle"}},
           "y2": {"datum": 2}
         }},
        {"data": {"values": [{}]}, "mark": {"type": "rule", "color": "#c8c8c8", "strokeWidth": 1}, "encoding": {"y": {"datum": 0, "type": "quantitative", "axis": {"title": "DIFFUSION INDEX and DRIVERS", "titleX": -51.7, "titleBaseline": "middle"}}}},
        {"data": {"name": "years"}, "mark": {"type": "rule", "color": "black"}, "encoding": {"x": {"field": "year", "type": "quantitative", "axis": {"labels": false, "title": null}}, "y": {"datum": -2, "type": "quantitative", "axis": {"title": "DIFFUSION INDEX and DRIVERS", "titleX": -51.7, "titleBaseline": "middle"}}, "y2": {"datum": -1.92}}},
        {"data": {"name": "years"}, "mark": {"type": "rule", "color": "black"}, "encoding": {"x": {"field": "year", "type": "quantitative", "axis": {"labels": false, "title": null}}, "y": {"datum": 2, "type": "quantitative", "axis": {"title": "DIFFUSION INDEX and DRIVERS", "titleX": -51.7, "titleBaseline": "middle"}}, "y2": {"datum": 1.92}}},
        {"data": {"name": "drivers"},
         "transform": [
           {"filter": "datum.panel === 'CAPITAL POSITION'"},
           {"lookup": "t", "from": {"data": {"name": "dics"}, "key": "t", "fields": ["DICS"]}},
           {"fold": ["DICS", "positive", "negative"], "as": ["series", "v"]}
         ],
         "mark": {"type": "line", "strokeWidth": 1.8},
         "encoding": {
           "x": {"field": "t", "type": "quantitative", "axis": {"labels": false, "title": null}},
           "y": {"field": "v", "type": "quantitative", "axis": {"title": "DIFFUSION INDEX and DRIVERS", "titleX": -51.7, "titleBaseline": "middle"}},
           "color": {"field": "series", "type": "nominal", "title": " ", "scale": {"domain": ["DICS", "positive", "negative"], "range": ["#000000", "#000000", "#ff0000"]}},
           "strokeDash": {"field": "series", "type": "nominal", "title": " ", "scale": {"domain": ["DICS", "positive", "negative"], "range": [[1, 0], [3.5, 4], [12, 7]]}}
         }},
        {"data": {"values": [{}]}, "mark": {"type": "text", "baseline": "alphabetic"}, "encoding": {"x": {"datum": 2008, "type": "quantitative", "axis": {"labels": false, "title": null}}, "y": {"datum": 1.69, "type": "quantitative", "axis": {"title": "DIFFUSION INDEX and DRIVERS", "titleX": -51.7, "titleBaseline": "middle"}}, "text": {"value": "CAPITAL POSITION"}}}
      ]
    },
    {
      "width": 325, "height": 205,
      "layer": [
        {"data": {"name": "recessions"}, "mark": {"type": "rect", "color": "#dcdcdc"},
         "encoding": {
           "x": {"field": "start", "type": "quantitative", "scale": {"domain": [1998, 2018], "nice": false, "zero": false}, "axis": {"labels": false, "title": null}},
           "x2": {"field": "end"},
           "y": {"datum": -2, "type": "quantitative", "scale": {"domain": [-2, 2], "nice": false}, "axis": {"labels": false, "title": null}},
           "y2": {"datum": 2}
         }},
        {"data": {"values": [{}]}, "mark": {"type": "rule", "color": "#c8c8c8", "strokeWidth": 1}, "encoding": {"y": {"datum": 0, "type": "quantitative", "axis": {"labels": false, "title": null}}}},
        {"data": {"name": "years"}, "mark": {"type": "rule", "color": "black"}, "encoding": {"x": {"field": "year", "type": "quantitative", "axis": {"labels": false, "title": null}}, "y": {"datum": -2, "type": "quantitative", "axis": {"labels": false, "title": null}}, "y2": {"datum": -1.92}}},
        {"data": {"name": "years"}, "mark": {"type": "rule", "color": "black"}, "encoding": {"x": {"field": "year", "type": "quantitative", "axis": {"labels": false, "title": null}}, "y": {"datum": 2, "type": "quantitative", "axis": {"labels": false, "title": null}}, "y2": {"datum": 1.92}}},
        {"data": {"name": "drivers"},
         "transform": [
           {"filter": "datum.panel === 'INDUSTRY PROBLEMS'"},
           {"lookup": "t", "from": {"data": {"name": "dics"}, "key": "t", "fields": ["DICS"]}},
           {"fold": ["DICS", "positive", "negative"], "as": ["series", "v"]}
         ],
         "mark": {"type": "line", "strokeWidth": 1.8},
         "encoding": {
           "x": {"field": "t", "type": "quantitative", "axis": {"labels": false, "title": null}},
           "y": {"field": "v", "type": "quantitative", "axis": {"labels": false, "title": null}},
           "color": {"field": "series", "type": "nominal", "title": " ", "scale": {"domain": ["DICS", "positive", "negative"], "range": ["#000000", "#000000", "#ff0000"]}},
           "strokeDash": {"field": "series", "type": "nominal", "title": " ", "scale": {"domain": ["DICS", "positive", "negative"], "range": [[1, 0], [3.5, 4], [12, 7]]}}
         }},
        {"data": {"values": [{}]}, "mark": {"type": "text", "baseline": "alphabetic"}, "encoding": {"x": {"datum": 2008, "type": "quantitative", "axis": {"labels": false, "title": null}}, "y": {"datum": 1.69, "type": "quantitative", "axis": {"labels": false, "title": null}}, "text": {"value": "INDUSTRY PROBLEMS"}}}
      ]
    },
    {
      "width": 325, "height": 221,
      "layer": [
        {"data": {"name": "recessions"}, "mark": {"type": "rect", "color": "#dcdcdc"},
         "encoding": {
           "x": {"field": "start", "type": "quantitative", "scale": {"domain": [1998, 2018], "nice": false, "zero": false}, "axis": {"title": "TIME (years)", "titleX": 324, "titleY": 42.7, "titleBaseline": "middle"}},
           "x2": {"field": "end"},
           "y": {"datum": -2, "type": "quantitative", "scale": {"domain": [-2, 2], "nice": false}, "axis": {"title": null}},
           "y2": {"datum": 2}
         }},
        {"data": {"values": [{}]}, "mark": {"type": "rule", "color": "#c8c8c8", "strokeWidth": 1}, "encoding": {"y": {"datum": 0, "type": "quantitative", "axis": {"title": null}}}},
        {"data": {"name": "years"}, "mark": {"type": "rule", "color": "black"}, "encoding": {"x": {"field": "year", "type": "quantitative", "axis": {"title": "TIME (years)", "titleX": 324, "titleY": 42.7, "titleBaseline": "middle"}}, "y": {"datum": -2, "type": "quantitative", "axis": {"title": null}}, "y2": {"datum": -1.92}}},
        {"data": {"name": "years"}, "mark": {"type": "rule", "color": "black"}, "encoding": {"x": {"field": "year", "type": "quantitative", "axis": {"title": "TIME (years)", "titleX": 324, "titleY": 42.7, "titleBaseline": "middle"}}, "y": {"datum": 2, "type": "quantitative", "axis": {"title": null}}, "y2": {"datum": 1.92}}},
        {"data": {"name": "drivers"},
         "transform": [
           {"filter": "datum.panel === 'RISK TOLERANCE'"},
           {"lookup": "t", "from": {"data": {"name": "dics"}, "key": "t", "fields": ["DICS"]}},
           {"fold": ["DICS", "positive", "negative"], "as": ["series", "v"]}
         ],
         "mark": {"type": "line", "strokeWidth": 1.8},
         "encoding": {
           "x": {"field": "t", "type": "quantitative", "axis": {"title": "TIME (years)", "titleX": 324, "titleY": 42.7, "titleBaseline": "middle"}},
           "y": {"field": "v", "type": "quantitative", "axis": {"title": null}},
           "color": {"field": "series", "type": "nominal", "title": " ", "scale": {"domain": ["DICS", "positive", "negative"], "range": ["#000000", "#000000", "#ff0000"]}},
           "strokeDash": {"field": "series", "type": "nominal", "title": " ", "scale": {"domain": ["DICS", "positive", "negative"], "range": [[1, 0], [3.5, 4], [12, 7]]}}
         }},
        {"data": {"values": [{}]}, "mark": {"type": "text", "baseline": "alphabetic"}, "encoding": {"x": {"datum": 2008, "type": "quantitative", "axis": {"title": "TIME (years)", "titleX": 324, "titleY": 42.7, "titleBaseline": "middle"}}, "y": {"datum": 1.72, "type": "quantitative", "axis": {"title": null}}, "text": {"value": "RISK TOLERANCE"}}}
      ]
    },
    {
      "width": 325, "height": 221,
      "layer": [
        {"data": {"name": "recessions"}, "mark": {"type": "rect", "color": "#dcdcdc"},
         "encoding": {
           "x": {"field": "start", "type": "quantitative", "scale": {"domain": [1998, 2018], "nice": false, "zero": false}, "axis": {"title": null}},
           "x2": {"field": "end"},
           "y": {"datum": -2, "type": "quantitative", "scale": {"domain": [-2, 2], "nice": false}, "axis": {"labels": false, "title": null}},
           "y2": {"datum": 2}
         }},
        {"data": {"values": [{}]}, "mark": {"type": "rule", "color": "#c8c8c8", "strokeWidth": 1}, "encoding": {"y": {"datum": 0, "type": "quantitative", "axis": {"labels": false, "title": null}}}},
        {"data": {"name": "years"}, "mark": {"type": "rule", "color": "black"}, "encoding": {"x": {"field": "year", "type": "quantitative", "axis": {"title": null}}, "y": {"datum": -2, "type": "quantitative", "axis": {"labels": false, "title": null}}, "y2": {"datum": -1.92}}},
        {"data": {"name": "years"}, "mark": {"type": "rule", "color": "black"}, "encoding": {"x": {"field": "year", "type": "quantitative", "axis": {"title": null}}, "y": {"datum": 2, "type": "quantitative", "axis": {"labels": false, "title": null}}, "y2": {"datum": 1.92}}},
        {"data": {"name": "drivers"},
         "transform": [
           {"filter": "datum.panel === 'LOAN LIQUIDITY'"},
           {"lookup": "t", "from": {"data": {"name": "dics"}, "key": "t", "fields": ["DICS"]}},
           {"fold": ["DICS", "positive", "negative"], "as": ["series", "v"]}
         ],
         "mark": {"type": "line", "strokeWidth": 1.8},
         "encoding": {
           "x": {"field": "t", "type": "quantitative", "axis": {"title": null}},
           "y": {"field": "v", "type": "quantitative", "axis": {"labels": false, "title": null}},
           "color": {"field": "series", "type": "nominal", "title": " ", "scale": {"domain": ["DICS", "positive", "negative"], "range": ["#000000", "#000000", "#ff0000"]}},
           "strokeDash": {"field": "series", "type": "nominal", "title": " ", "scale": {"domain": ["DICS", "positive", "negative"], "range": [[1, 0], [3.5, 4], [12, 7]]}}
         }},
        {"data": {"values": [{}]}, "mark": {"type": "text", "baseline": "alphabetic"}, "encoding": {"x": {"datum": 2008, "type": "quantitative", "axis": {"title": null}}, "y": {"datum": 1.72, "type": "quantitative", "axis": {"labels": false, "title": null}}, "text": {"value": "LOAN LIQUIDITY"}}}
      ]
    }
  ],
  "config": {
    "font": "Liberation Sans",
    "view": {"stroke": "black", "strokeWidth": 1.3},
    "axis": {
      "labelFont": "Liberation Sans", "labelFontSize": 12, "labelColor": "black",
      "titleFont": "Liberation Sans", "titleFontSize": 12, "titleFontWeight": "normal", "titleColor": "black",
      "domain": false, "ticks": false, "grid": true,
      "gridColor": "#808080", "gridDash": [1, 2], "gridWidth": 1, "gridOpacity": 1
    },
    "axisX": {"labelPadding": 6, "tickCount": 4, "format": "d"},
    "axisY": {"labelPadding": 6.5, "tickCount": 8, "labelExpr": "(datum.value < 0 ? '-' : '') + format(abs(datum.value), '.1f')"},
    "text": {"font": "Liberation Sans", "fontSize": 12, "color": "black"},
    "legend": {
      "labelFont": "Liberation Sans", "labelFontSize": 12, "labelColor": "black",
      "labelAlign": "right", "labelOffset": -31,
      "symbolType": "M-3,0H3", "symbolSize": 121, "symbolStrokeWidth": 1.8,
      "columnPadding": 21, "padding": 3,
      "strokeColor": "black", "fillColor": "white",
      "titleOrient": "left", "titlePadding": 76, "titleFont": "Liberation Sans", "titleFontSize": 12
    }
  }
}
